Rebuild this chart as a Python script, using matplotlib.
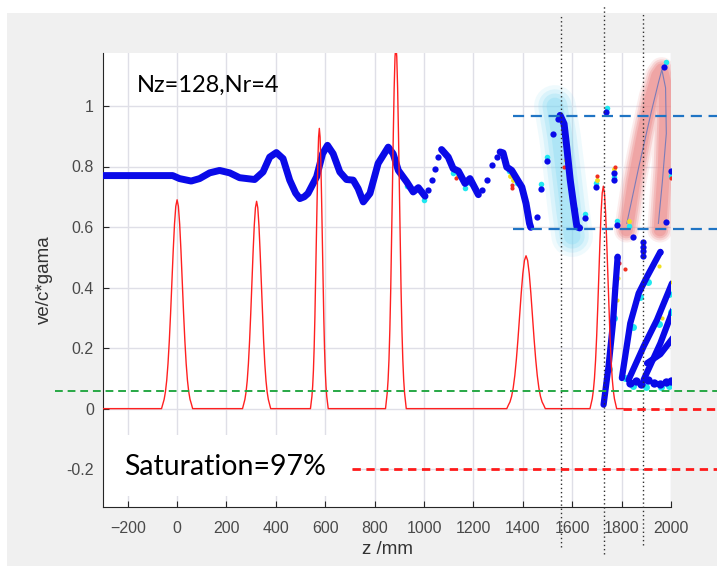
import matplotlib.pyplot as plt
from matplotlib.patches import Rectangle

# red pulses (centre z, peak height, width)
pulse_z = [0, 322, 576, 886, 1413, 1726]
pulse_h = [0.69, 0.685, 0.926, 1.20, 0.505, 0.735]
pulse_w = [21, 19, 12, 14, 26, 18]
# pulse profile, offsets in widths and relative height
shape_u = [-3, -2.75, -2.5, -2.25, -2, -1.75, -1.5, -1.25, -1, -0.75, -0.5, -0.25, 0,
           0.25, 0.5, 0.75, 1, 1.25, 1.5, 1.75, 2, 2.25, 2.5, 2.75, 3]
shape_v = [0, 0.023, 0.044, 0.080, 0.135, 0.216, 0.325, 0.458, 0.607, 0.755, 0.883, 0.969, 1.0,
           0.969, 0.883, 0.755, 0.607, 0.458, 0.325, 0.216, 0.135, 0.080, 0.044, 0.023, 0]
red_start, red_end = -300, 1806

# blue thick trace, continuous pieces
seg1_z = [-300, -18, 10, 57, 91, 132, 172, 213, 253, 314, 348, 375, 402, 429, 456, 480, 497, 515,
          530, 565, 589, 609, 632, 659, 686, 713, 733, 754, 781, 814, 855, 875, 896, 930, 956, 977, 1004]
seg1_v = [0.77, 0.77, 0.76, 0.752, 0.76, 0.779, 0.787, 0.779, 0.763, 0.757, 0.782, 0.831, 0.846, 0.826,
          0.755, 0.712, 0.694, 0.700, 0.711, 0.766, 0.842, 0.87, 0.842, 0.782, 0.757, 0.755, 0.727, 0.683,
          0.711, 0.81, 0.864, 0.842, 0.787, 0.749, 0.716, 0.73, 0.702]
seg2_z = [1071, 1098, 1118, 1139, 1166, 1186, 1220]
seg2_v = [0.856, 0.831, 0.793, 0.785, 0.744, 0.76, 0.707]
seg3_z = [1308, 1320, 1335, 1355, 1375, 1396, 1413, 1427, 1432]
seg3_v = [0.848, 0.845, 0.798, 0.787, 0.76, 0.732, 0.678, 0.612, 0.599]
seg4_z = [1551, 1567, 1578, 1592, 1605, 1619, 1630]
seg4_v = [0.969, 0.941, 0.864, 0.755, 0.678, 0.601, 0.597]

# single blue particles
dot_z = [1017, 1031, 1044, 1058, 1234, 1254, 1274, 1294, 1457, 1474, 1497, 1524, 1544, 1653, 1698,
         1737, 1770, 1770, 1781, 1782, 1848, 1886, 1886, 1886, 1886, 1957, 1970, 1980, 2001]
dot_v = [0.722, 0.755, 0.793, 0.831, 0.722, 0.755, 0.804, 0.831, 0.632, 0.727, 0.818, 0.908, 0.958,
         0.629, 0.731, 0.98, 0.777, 0.754, 0.606, 0.502, 0.568, 0.55, 0.535, 0.52, 0.505, 0.518,
         1.128, 0.617, 0.784]

# coloured particles (jet colours) next to the blue ones
cyan_z = [1981, 1474, 1497, 1653, 1698, 1740, 1770, 1781, 1828, 2001, 930, 1000, 1118, 1166, 1186,
          1342, 1375, 1590, 1620, 1600, 1612]
cyan_v = [1.145, 0.742, 0.832, 0.643, 0.745, 0.992, 0.765, 0.62, 0.605, 0.77, 0.735, 0.69, 0.778,
          0.73, 0.745, 0.785, 0.745, 0.76, 0.61, 0.70, 0.66]
yellow_z = [1139, 1350, 1362, 1700, 1770, 1828, 1575, 1190]
yellow_v = [0.768, 0.77, 0.755, 0.757, 0.792, 0.62, 0.82, 0.748]
redp_z = [1355, 1700, 1772, 1130, 1599, 2001, 1566, 1358]
redp_v = [0.74, 0.768, 0.80, 0.762, 0.70, 0.762, 0.80, 0.73]

# streaks of particles in the lower right
streak_z = [[1727, 1747, 1765, 1774, 1784], [1801, 1835, 1869, 1903, 1957],
            [1828, 1889, 1943, 2004], [1889, 1957, 2008], [1903, 1957, 2008]]
streak_v = [[0.013, 0.139, 0.282, 0.392, 0.502], [0.101, 0.282, 0.381, 0.436, 0.518],
            [0.095, 0.205, 0.293, 0.414], [0.095, 0.216, 0.326], [0.15, 0.18, 0.234]]
row_z = [1836, 1858, 1880, 1905, 1930, 1955, 1980, 2000]
row_v = [0.085, 0.092, 0.08, 0.095, 0.085, 0.08, 0.088, 0.09]
streak_cyan_z = [1750, 1770, 1812, 1845, 1873, 1905, 1950, 1990, 2000, 1845, 1900, 1960, 1990]
streak_cyan_v = [0.13, 0.30, 0.10, 0.27, 0.37, 0.42, 0.28, 0.38, 0.32, 0.075, 0.07, 0.07, 0.075]
streak_red_z = [1776, 1790, 1812, 1945, 1770]
streak_red_v = [0.45, 0.48, 0.46, 0.50, 0.40]
streak_yel_z = [1786, 1952, 2005, 1965, 1780]
streak_yel_v = [0.43, 0.47, 0.42, 0.30, 0.36]

# highlight bands
cglow_z = [1530, 1550, 1568, 1585, 1600]
cglow_v = [1.00, 0.90, 0.78, 0.66, 0.57]
pglow_z = [1820, 1850, 1888, 1920, 1945, 1962, 1975, 1978, 1972, 1962, 1955]
pglow_v = [0.59, 0.75, 0.91, 1.03, 1.10, 1.12, 1.08, 0.95, 0.80, 0.68, 0.59]
loop_z = [1821, 1870, 1920, 1950, 1963, 1978, 1981, 1965, 1949]
loop_v = [0.612, 0.80, 0.98, 1.08, 1.12, 1.06, 0.909, 0.75, 0.612]

x_ticks = [-200, 0, 200, 400, 600, 800, 1000, 1200, 1400, 1600, 1800, 2000]
y_ticks = [-0.2, 0, 0.2, 0.4, 0.6, 0.8, 1]
y_tick_labels = ['-0.2', '0', '0.2', '0.4', '0.6', '0.8', '1']

# guide lines
vlines_z = [1555, 1730, 1888]
vlines_top = [1.305, 1.33, 1.305]
vlines_bot = [-0.458, -0.48, -0.45]
blue_dash_v = [0.967, 0.595]
blue_dash_start = 1360
green_dash_v = 0.058
red_dash = [(707, -0.2), (1806, 0.0)]
z_edge_left, z_edge_right = -493, 2190

BLUE = '#0a0ae8'

fig = plt.figure(figsize=(7.17, 5.66), dpi=100)
fig.patches.append(Rectangle((7 / 717, 0), 1, (566 - 13) / 566, transform=fig.transFigure,
                             facecolor='#f0f0f0', edgecolor='none', zorder=-10))
ax = fig.add_axes([103 / 717, 59 / 566, 568 / 717, 454 / 566])
ax.set_xlim(-300, 2000)
ax.set_ylim(-0.325, 1.175)
ax.set_axisbelow(True)
ax.grid(True, color='#dfdfe7', lw=1)
for s in ['top', 'right']:
    ax.spines[s].set_visible(False)
for s in ['left', 'bottom']:
    ax.spines[s].set_color('#262626')
ax.set_xticks(x_ticks)
ax.set_yticks(y_ticks)
ax.set_yticklabels(y_tick_labels)
ax.tick_params(direction='in', length=4.5, color='#262626', labelcolor='#4a4a4a',
               labelsize=11.5)
ax.tick_params(axis='x', pad=10)
ax.tick_params(axis='y', pad=6.5)
for lab in ax.get_xticklabels() + ax.get_yticklabels():
    lab.set_family('Liberation Sans')
ax.set_xlabel('z /mm', fontsize=13.5, family='Liberation Sans', color='#333333', labelpad=4)
ax.set_ylabel('ve/c*gama', fontsize=13.5, family='Liberation Sans', color='#333333', labelpad=10)

# highlight glows
for lw, al in [(30, 0.12), (24, 0.18), (18, 0.25), (12, 0.3)]:
    ax.plot(cglow_z, cglow_v, color='#7fd8f2', lw=lw, alpha=al, solid_capstyle='round',
            solid_joinstyle='round', zorder=2)
for lw, al in [(18, 0.15), (15, 0.25), (12, 0.35), (9, 0.45)]:
    ax.plot(pglow_z, pglow_v, color='#ec8c8c', lw=lw, alpha=al, solid_capstyle='round',
            solid_joinstyle='round', zorder=2)
ax.plot(loop_z, loop_v, color='#7c7cb8', lw=0.8, zorder=3)

# blue trace
for sz, sv in [(seg1_z, seg1_v), (seg2_z, seg2_v), (seg3_z, seg3_v), (seg4_z, seg4_v)]:
    ax.plot(sz, sv, color=BLUE, lw=5, solid_capstyle='round', solid_joinstyle='round', zorder=4)
ax.plot(cyan_z, cyan_v, 'o', color='#20e8f0', ms=4, mec='none', zorder=3.5)
ax.plot(yellow_z, yellow_v, 'o', color='#f0e020', ms=3.5, mec='none', zorder=3.5)
ax.plot(redp_z, redp_v, 'o', color='#f03020', ms=3, mec='none', zorder=3.5)
ax.plot(dot_z, dot_v, 'o', color=BLUE, ms=4.5, mec='none', zorder=4)

# lower right streaks
ax.plot(streak_cyan_z, streak_cyan_v, 'o', color='#20e8f0', ms=5, mec='none', zorder=3.5)
ax.plot(streak_red_z, streak_red_v, 'o', color='#f03020', ms=3, mec='none', zorder=3.5)
ax.plot(streak_yel_z, streak_yel_v, 'o', color='#f0e020', ms=3, mec='none', zorder=3.5)
for sz, sv in zip(streak_z, streak_v):
    ax.plot(sz, sv, color=BLUE, lw=4.5, solid_capstyle='round', solid_joinstyle='round', zorder=4)
ax.plot(row_z, row_v, 'o', color=BLUE, ms=6, mec='none', zorder=4)

# red pulse curve
red_x, red_y = [red_start], [0]
for c, h, w in zip(pulse_z, pulse_h, pulse_w):
    for u, v in zip(shape_u, shape_v):
        red_x.append(c + u * w)
        red_y.append(h * v)
red_x.append(red_end)
red_y.append(0)
ax.plot(red_x, red_y, color='#ff2020', lw=1, zorder=5)

# guide lines outside the axes
for z, t, b in zip(vlines_z, vlines_top, vlines_bot):
    ax.plot([z, z], [b, t], color='#303030', lw=1, ls=(0, (1, 2)), clip_on=False, zorder=6)
for v in blue_dash_v:
    ax.plot([blue_dash_start, z_edge_right], [v, v], color='#1f74c4', lw=1.6,
            dashes=(5, 3), clip_on=False, zorder=6)
ax.plot([z_edge_left, z_edge_right], [green_dash_v] * 2, color='#27a845', lw=1.4,
        dashes=(4, 2.5), clip_on=False, zorder=6)
for z0, v in red_dash:
    ax.plot([z0, z_edge_right], [v, v], color='#ff1a1a', lw=2, dashes=(3, 2),
            clip_on=False, zorder=6)

# text boxes
ax.add_patch(Rectangle((-300, -0.29), 1007, 0.204, facecolor='white', edgecolor='none', zorder=1))
ax.text(-164, 1.068, 'Nz=128,Nr=4', fontsize=17, family='Lato', va='center', zorder=7)
ax.text(-213, -0.194, 'Saturation=97%', fontsize=20.5, family='Lato', va='center', zorder=7)

fig.savefig('out.png', dpi=100)
